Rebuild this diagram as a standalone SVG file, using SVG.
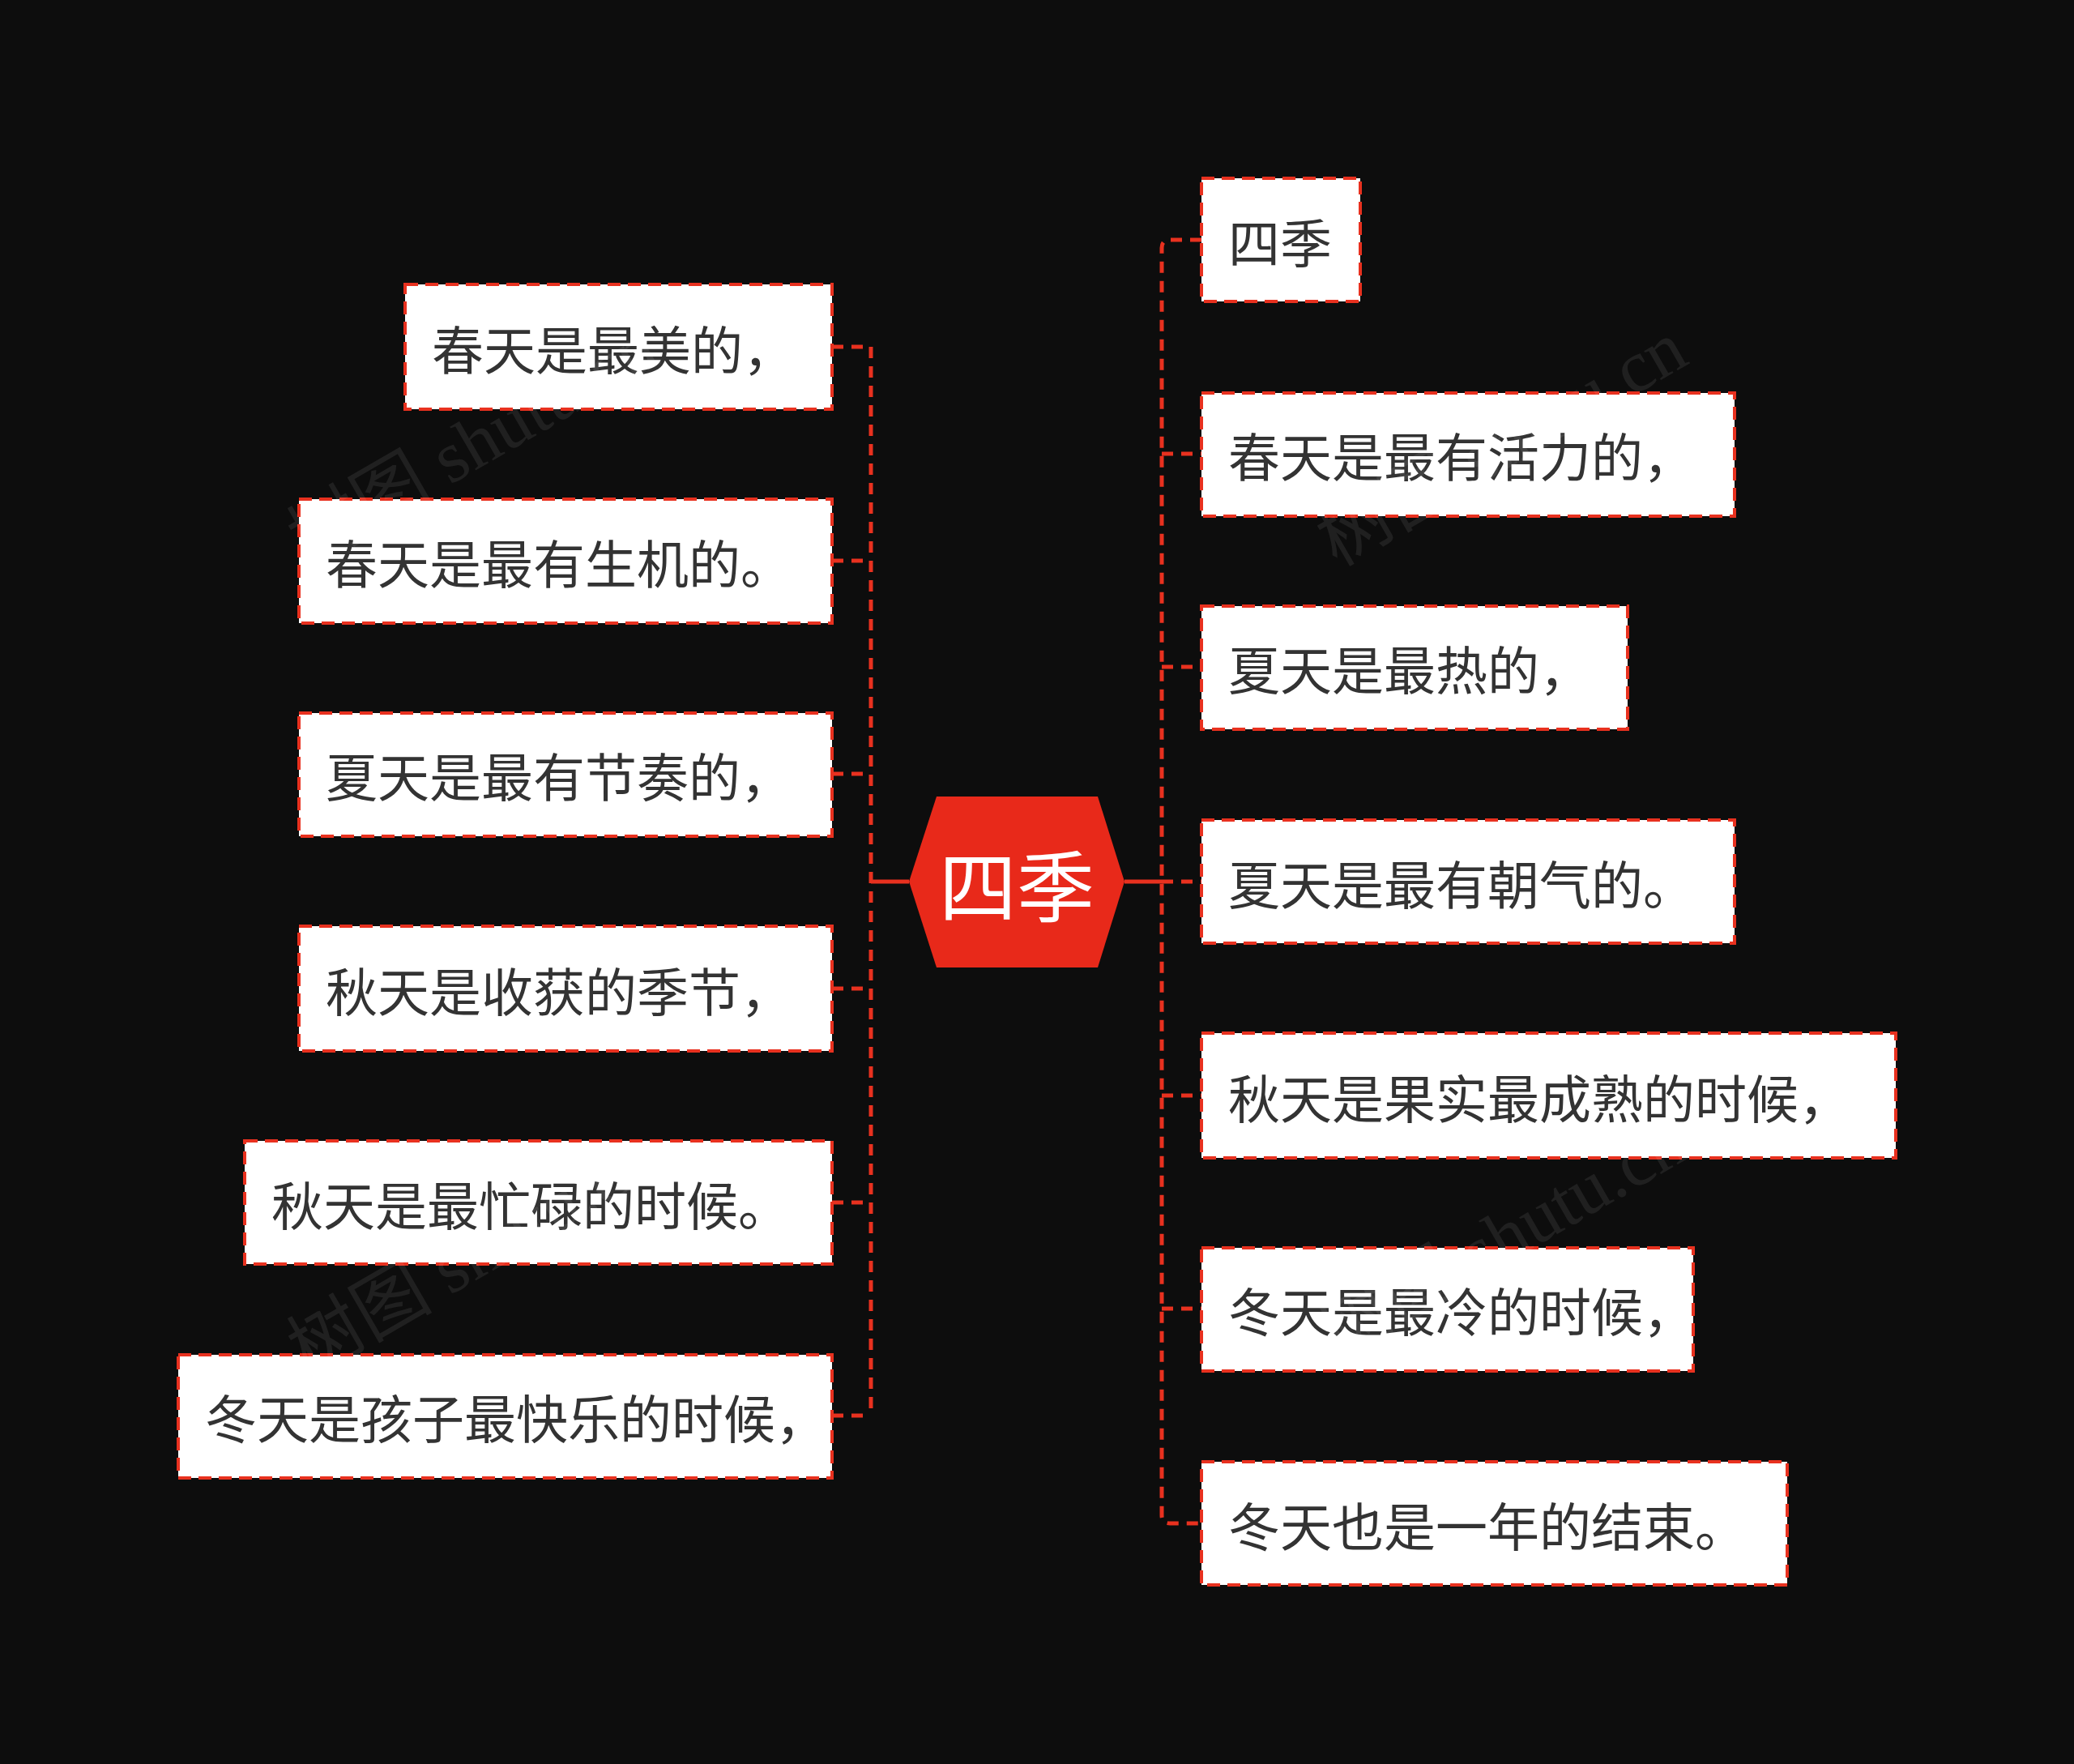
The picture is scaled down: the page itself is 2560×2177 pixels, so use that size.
<svg xmlns="http://www.w3.org/2000/svg" width="2560" height="2177" viewBox="0 0 2560 2177">
<style>
.box{fill:#fff;stroke:#e8311f;stroke-width:4;stroke-dasharray:16 9}
.t{font-family:"Noto Sans CJK SC","Noto Sans",sans-serif;font-size:64px;fill:#333;dominant-baseline:central}
.c{fill:none;stroke:#e8311f;stroke-width:5;stroke-dasharray:14 10}
.s{fill:none;stroke:#e8311f;stroke-width:5}
.wm{font-family:"Liberation Serif","Noto Sans CJK SC",serif;font-size:90px;fill:#fff;opacity:0.08}
</style>
<rect width="2560" height="2177" fill="#0d0d0d"/>
<g id="connectors">
<path class="s" d="M1122 1088H1075M1388 1088H1434"/>
<path class="c" d="M1075 428V1747M1027 428H1075M1027 692H1075M1027 955H1075M1027 1220H1075M1027 1484H1075M1027 1747H1075"/>
<path class="c" d="M1483 296H1444Q1434 296 1434 306V1870Q1434 1880 1444 1880H1483M1434 560H1483M1434 823H1483M1434 1088H1483M1434 1352H1483M1434 1615H1483"/>
</g>
<g id="center"><polygon points="1122,1088 1156,983 1355,983 1388,1088 1355,1194 1156,1194" fill="#e8291a"/>
<text x="1255" y="1088" text-anchor="middle" dominant-baseline="central" font-family="Noto Sans CJK SC,sans-serif" font-size="96" fill="#fff">四季</text></g>
<g id="l1"><rect class="box" x="500" y="351" width="527" height="154"/><text class="t" x="533" y="428">春天是最美的，</text></g>
<g id="l2"><rect class="box" x="369" y="616" width="658" height="153"/><text class="t" x="402" y="692">春天是最有生机的。</text></g>
<g id="l3"><rect class="box" x="369" y="880" width="658" height="152"/><text class="t" x="402" y="955">夏天是最有节奏的，</text></g>
<g id="l4"><rect class="box" x="369" y="1143" width="658" height="154"/><text class="t" x="402" y="1220">秋天是收获的季节，</text></g>
<g id="l5"><rect class="box" x="302" y="1408" width="725" height="152"/><text class="t" x="335" y="1484">秋天是最忙碌的时候。</text></g>
<g id="l6"><rect class="box" x="220" y="1672" width="807" height="152"/><text class="t" x="253" y="1747">冬天是孩子最快乐的时候，</text></g>
<g id="r1"><rect class="box" x="1483" y="220" width="196" height="152"/><text class="t" x="1516" y="296">四季</text></g>
<g id="r2"><rect class="box" x="1483" y="485" width="658" height="152"/><text class="t" x="1516" y="560">春天是最有活力的，</text></g>
<g id="r3"><rect class="box" x="1483" y="748" width="526" height="152"/><text class="t" x="1516" y="823">夏天是最热的，</text></g>
<g id="r4"><rect class="box" x="1483" y="1012" width="658" height="152"/><text class="t" x="1516" y="1088">夏天是最有朝气的。</text></g>
<g id="r5"><rect class="box" x="1483" y="1275" width="857" height="154"/><text class="t" x="1516" y="1352">秋天是果实最成熟的时候，</text></g>
<g id="r6"><rect class="box" x="1483" y="1540" width="607" height="152"/><text class="t" x="1516" y="1615">冬天是最冷的时候，</text></g>
<g id="r7"><rect class="box" x="1483" y="1804" width="723" height="152"/><text class="t" x="1516" y="1880">冬天也是一年的结束。</text></g>
<g id="watermarks">
<text class="wm" transform="translate(380 700) rotate(-30)">树图 shutu.cn</text>
<text class="wm" transform="translate(1650 700) rotate(-30)">树图 shutu.cn</text>
<text class="wm" transform="translate(380 1700) rotate(-30)">树图 shutu.cn</text>
<text class="wm" transform="translate(1650 1680) rotate(-30)">树图 shutu.cn</text>
</g>
</svg>
